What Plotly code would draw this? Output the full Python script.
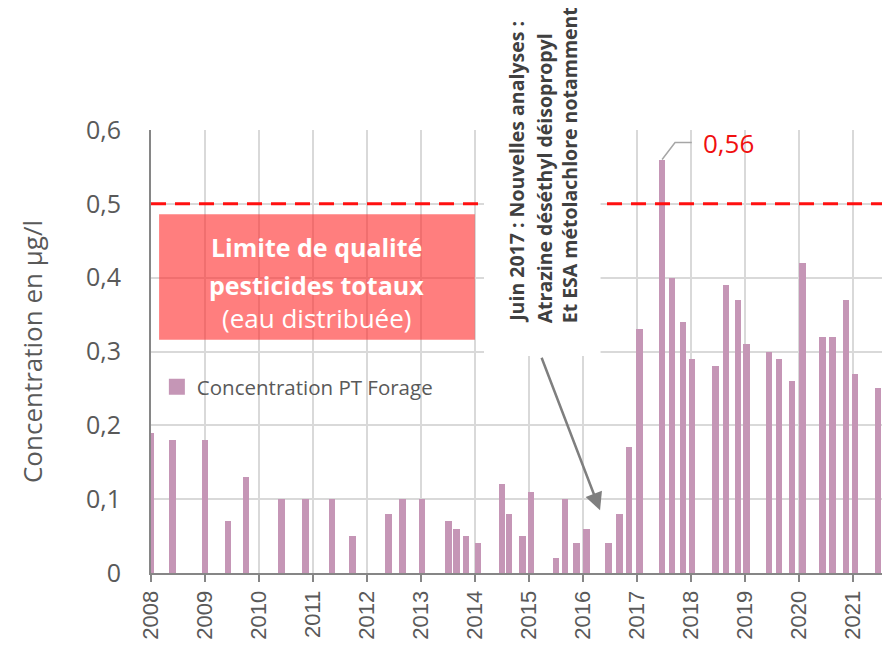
import plotly.graph_objects as go

# Sample dates (fractional years) and concentrations (µg/l)
dates = [2008.00, 2008.40, 2009.00, 2009.43, 2009.76, 2010.42, 2010.86, 2011.35, 2011.73,
         2012.40, 2012.66, 2013.02, 2013.51, 2013.66, 2013.84, 2014.06, 2014.50, 2014.63,
         2014.88, 2015.04, 2015.50, 2015.67, 2015.88, 2016.07, 2016.48, 2016.68, 2016.86,
         2017.05, 2017.47, 2017.65, 2017.86, 2018.02, 2018.46, 2018.65, 2018.88, 2019.03,
         2019.45, 2019.64, 2019.88, 2020.07, 2020.44, 2020.63, 2020.88, 2021.04, 2021.47]
concentration = [0.19, 0.18, 0.18, 0.07, 0.13, 0.10, 0.10, 0.10, 0.05,
                 0.08, 0.10, 0.10, 0.07, 0.06, 0.05, 0.04, 0.12, 0.08,
                 0.05, 0.11, 0.02, 0.10, 0.04, 0.06, 0.04, 0.08, 0.17,
                 0.33, 0.56, 0.40, 0.34, 0.29, 0.28, 0.39, 0.37, 0.31,
                 0.30, 0.29, 0.26, 0.42, 0.32, 0.32, 0.37, 0.27, 0.25]
year_ticks = list(range(2008, 2022))
year_labels = [str(y) for y in year_ticks]
y_ticks = [0, 0.1, 0.2, 0.3, 0.4, 0.5, 0.6]
y_labels = ["0", "0,1", "0,2", "0,3", "0,4", "0,5", "0,6"]
limit_value = 0.5
series_name = "Concentration PT Forage"

BAR = "#c596b6"
GRID = "#d9d9d9"
AXIS = "#868686"
TXT = "#595959"
FONT = "Open Sans"

fig = go.Figure()
fig.add_trace(go.Bar(x=dates, y=concentration, width=0.12, marker=dict(color=BAR, line=dict(width=0)),
                     showlegend=False, name=series_name))
fig.add_trace(go.Scatter(x=[None], y=[None], mode="markers", name=series_name,
                         marker=dict(symbol="square", size=16, color=BAR)))

# limit line
fig.add_shape(type="line", xref="x", yref="y", x0=2008, x1=2021.6, y0=limit_value, y1=limit_value,
              line=dict(color="#ff1010", width=3, dash="15px,9px"), layer="above")
# white background behind the vertical note
fig.add_shape(type="rect", xref="x", yref="y", x0=2014.17, x1=2016.33, y0=0.294, y1=0.6,
              fillcolor="white", line=dict(width=0), layer="above")
# quality limit box
fig.add_shape(type="rect", xref="x", yref="y", x0=2008.15, x1=2014.0, y0=0.316, y1=0.486,
              fillcolor="rgba(255,40,40,0.6)", line=dict(width=0), layer="above")
# leader line for max value
fig.add_shape(type="path", xref="x", yref="y",
              path="M 2017.47 0.56 L 2017.71 0.583 L 2018.02 0.583",
              line=dict(color="#a6a6a6", width=1.5), layer="above")

fig.add_annotation(x=2018.19, y=0.583, xref="x", yref="y", text="0,56", showarrow=False,
                   xanchor="left", yanchor="middle", font=dict(family=FONT, size=26, color="#f01010"))

box_lines = [("<b>Limite de qualité</b>", 0.442, 25), ("<b>pesticides totaux</b>", 0.390, 25),
             ("(eau distribuée)", 0.3455, 26)]
for t, yy, s in box_lines:
    fig.add_annotation(x=2011.07, y=yy, xref="x", yref="y", text=t, showarrow=False,
                       font=dict(family=FONT, size=s, color="white"))

note_lines = [("Juin 2017 : Nouvelles analyses :", 2014.78),
              ("Atrazine déséthyl déisopropyl", 2015.29),
              ("Et ESA métolachlore notamment", 2015.77)]
for t, xx in note_lines:
    fig.add_annotation(x=xx, y=0.336, xref="x", yref="y", text="<b>" + t + "</b>", showarrow=False,
                       textangle=-90, xanchor="center", yanchor="bottom",
                       font=dict(family=FONT, size=19.5, color="#404040"))

fig.add_annotation(x=2016.32, y=0.085, xref="x", yref="y", text="", showarrow=True,
                   ax=-59, ay=-154, arrowcolor="#7f7f7f", arrowwidth=2.5, arrowhead=2, arrowsize=1.4)

# the page puts the figure 8 px from the top-left corner, so the figure is 882x638
fig.update_layout(
    width=882, height=638,
    margin=dict(l=143, r=5, t=122, b=73),
    paper_bgcolor="white", plot_bgcolor="white",
    font=dict(family=FONT, color=TXT),
    bargap=0,
    legend=dict(x=0.008, y=0.42, xanchor="left", yanchor="middle", bgcolor="rgba(0,0,0,0)",
                font=dict(family=FONT, size=20.5, color=TXT)),
    xaxis=dict(range=[2008, 2021.6], tickvals=year_ticks, ticktext=year_labels, tickangle=-90,
               showgrid=True, gridcolor=GRID, gridwidth=1.5, showline=True, linecolor=AXIS, linewidth=2,
               ticks="outside", ticklen=7, tickcolor=AXIS, tickwidth=1.5, automargin=False,
               tickfont=dict(family="Liberation Sans", size=22, color=TXT), zeroline=False),
    yaxis=dict(range=[0, 0.6], tickvals=y_ticks, ticktext=y_labels, automargin=False,
               showgrid=True, gridcolor=GRID, gridwidth=1.5, showline=True, linecolor=AXIS, linewidth=2,
               tickfont=dict(family=FONT, size=25, color=TXT), ticklabelstandoff=23, zeroline=False,
               title=dict(text="Concentration en µg/l", font=dict(family=FONT, size=26, color=TXT),
                          standoff=36)),
)

fig.write_html("out.html")
